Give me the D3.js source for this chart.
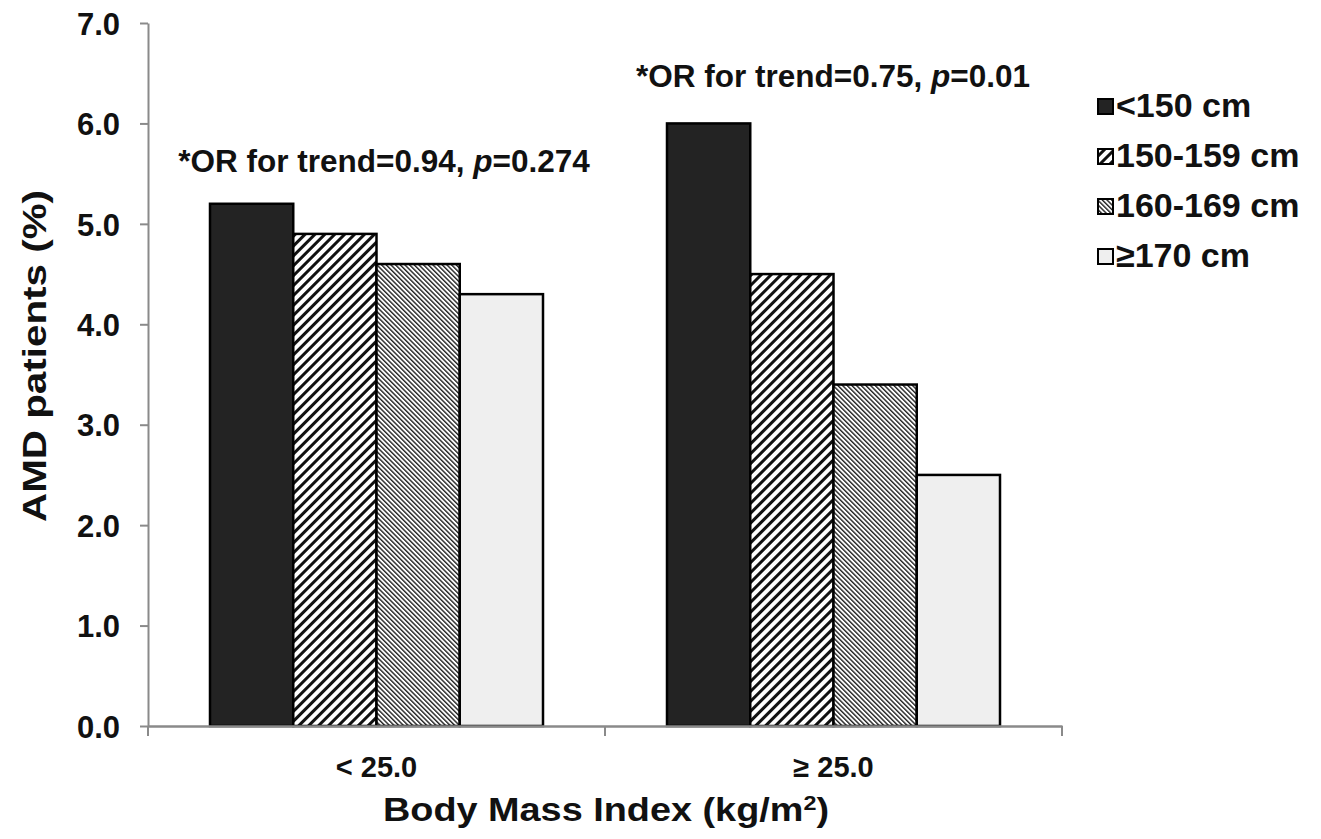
<!DOCTYPE html>
<html>
<head>
<meta charset="utf-8">
<script src="https://cdn.jsdelivr.net/npm/d3@7"></script>
<style>
  body { margin: 0; background: #fff; }
  svg { font-family: "Liberation Sans", Arial, sans-serif; font-weight: bold; }
</style>
</head>
<body>
<svg id="chart" width="1321" height="839"></svg>
<script>
const bmiGroups = ["< 25.0", "\u2265 25.0"];
const heightGroups = ["<150 cm", "150-159 cm", "160-169 cm", "\u2265170 cm"];
const values = {
  "< 25.0": [5.2, 4.9, 4.6, 4.3],
  "\u2265 25.0": [6.0, 4.5, 3.4, 2.5]
};
const yTicks = [0, 1, 2, 3, 4, 5, 6, 7];
const trendNotes = [
  { group: "< 25.0", or: "0.94", p: "0.274" },
  { group: "\u2265 25.0", or: "0.75", p: "0.01" }
];

const svg = d3.select("#chart");
const margin = { top: 23, left: 148, bottom: 113, right: 259 };
const width = 1321 - margin.left - margin.right;
const height = 839 - margin.top - margin.bottom;
const font = "'Liberation Sans', Arial, sans-serif";

// patterns for the hatched bars
const defs = svg.append("defs");
const wide = defs.append("pattern")
  .attr("id", "hatchWide")
  .attr("patternUnits", "userSpaceOnUse")
  .attr("width", 7).attr("height", 7)
  .attr("patternTransform", "rotate(45)");
wide.append("rect").attr("width", 7).attr("height", 7).attr("fill", "#fff");
wide.append("rect").attr("width", 3).attr("height", 7).attr("fill", "#111");

const fine = defs.append("pattern")
  .attr("id", "hatchFine")
  .attr("patternUnits", "userSpaceOnUse")
  .attr("width", 3.3).attr("height", 3.3)
  .attr("patternTransform", "rotate(-45)");
fine.append("rect").attr("width", 3.3).attr("height", 3.3).attr("fill", "#fff");
fine.append("rect").attr("width", 1.4).attr("height", 3.3).attr("fill", "#222");

const fills = ["#232323", "url(#hatchWide)", "url(#hatchFine)", "#efefef"];

const g = svg.append("g").attr("transform", `translate(${margin.left},${margin.top})`);

const x0 = d3.scaleBand().domain(bmiGroups).range([0, width]).paddingInner(0).paddingOuter(0);
const x1 = d3.scaleBand().domain(heightGroups).range([62, x0.bandwidth() - 62]).padding(0);
const y = d3.scaleLinear().domain([0, 7]).range([height, 0]);

// bars
const groups = g.selectAll(".grp")
  .data(bmiGroups)
  .enter().append("g")
  .attr("transform", (d) => `translate(${x0(d)},0)`);

groups.selectAll("rect")
  .data((d) => values[d].map((v, i) => ({ key: heightGroups[i], v, i })))
  .enter().append("rect")
  .attr("x", (d) => x1(d.key))
  .attr("y", (d) => y(d.v))
  .attr("width", x1.bandwidth())
  .attr("height", (d) => height - y(d.v))
  .attr("fill", (d) => fills[d.i])
  .attr("stroke", "#000")
  .attr("stroke-width", 2.5);

// y axis
const yAxis = g.append("g")
  .call(d3.axisLeft(y).tickValues(yTicks).tickFormat(d3.format(".1f")).tickSize(8).tickSizeOuter(0));
yAxis.select(".domain").attr("stroke", "#8a8a8a").attr("stroke-width", 2);
yAxis.selectAll(".tick line").attr("stroke", "#8a8a8a").attr("stroke-width", 2);
yAxis.selectAll(".tick text")
  .attr("x", -28)
  .attr("dy", "0.36em")
  .attr("fill", "#111")
  .style("font-size", "31px")
  .style("font-family", font)
  .style("font-weight", "bold");

// x axis
const xAxis = g.append("g")
  .attr("transform", `translate(0,${height})`)
  .call(d3.axisBottom(x0).tickSize(0).tickSizeOuter(0));
xAxis.select(".domain").attr("stroke", "#8a8a8a").attr("stroke-width", 2.5);
xAxis.selectAll(".tick text")
  .attr("y", 30)
  .attr("fill", "#111")
  .style("font-size", "29px")
  .style("font-family", font)
  .style("font-weight", "bold");
// category boundary ticks
const bounds = [0, x0.bandwidth(), width];
xAxis.selectAll(".bound")
  .data(bounds)
  .enter().append("line")
  .attr("x1", (d) => d).attr("x2", (d) => d)
  .attr("y1", 0).attr("y2", 10)
  .attr("stroke", "#8a8a8a").attr("stroke-width", 2);

// axis titles
svg.append("text")
  .attr("transform", `translate(46,356) rotate(-90)`)
  .attr("text-anchor", "middle")
  .attr("textLength", 332)
  .attr("lengthAdjust", "spacingAndGlyphs")
  .style("font-size", "33px")
  .attr("fill", "#111")
  .text("AMD patients (%)");

const xt = svg.append("text")
  .attr("x", 606)
  .attr("y", 821)
  .attr("text-anchor", "middle")
  .attr("textLength", 446)
  .attr("lengthAdjust", "spacingAndGlyphs")
  .style("font-size", "34px")
  .attr("fill", "#111");
xt.append("tspan").text("Body Mass Index (kg/m");
xt.append("tspan").attr("dy", -11).style("font-size", "21px").text("2");
xt.append("tspan").attr("dy", 11).text(")");

// trend notes (baseline placed on the value scale)
const noteY = { "< 25.0": 5.52, "\u2265 25.0": 6.36 };
const noteX = { "< 25.0": 384, "\u2265 25.0": 833 };
trendNotes.forEach((n) => {
  const t = svg.append("text")
    .attr("x", noteX[n.group])
    .attr("y", margin.top + y(noteY[n.group]))
    .attr("text-anchor", "middle")
    .style("font-size", "31.5px")
    .attr("fill", "#111");
  t.append("tspan").text(`*OR for trend=${n.or}, `);
  t.append("tspan").style("font-style", "italic").text("p");
  t.append("tspan").text(`=${n.p}`);
});

// legend
const legend = svg.append("g").attr("transform", "translate(1097,105)");
const items = legend.selectAll("g")
  .data(heightGroups)
  .enter().append("g")
  .attr("transform", (d, i) => `translate(0,${i * 50})`);
items.append("rect")
  .attr("x", 1).attr("y", -6)
  .attr("width", 15).attr("height", 15)
  .attr("fill", (d, i) => fills[i])
  .attr("stroke", "#000").attr("stroke-width", 2);
items.append("text")
  .attr("x", 19).attr("y", 0)
  .attr("dy", "0.36em")
  .style("font-size", "34px")
  .attr("fill", "#111")
  .text((d) => d);
</script>
</body>
</html>
